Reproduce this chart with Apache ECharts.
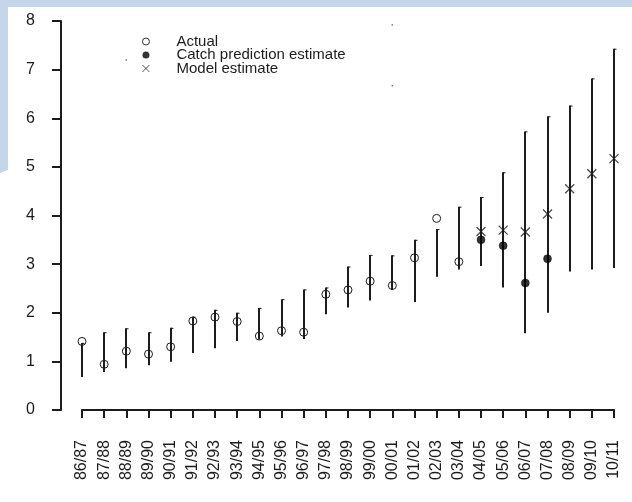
<!DOCTYPE html>
<html>
<head>
<meta charset="utf-8">
<title>Catch estimates</title>
<script src="https://cdn.jsdelivr.net/npm/echarts@6/dist/echarts.min.js"></script>
<style>
  html, body { margin: 0; padding: 0; background: #ffffff; }
  #chart { width: 632px; height: 502px; }
</style>
</head>
<body>
<div id="chart"></div>
<script>
// Seasons on the x axis
const seasons = ['86/87', '87/88', '88/89', '89/90', '90/91', '91/92', '92/93', '93/94',
  '94/95', '95/96', '96/97', '97/98', '98/99', '99/00', '00/01', '01/02', '02/03',
  '03/04', '04/05', '05/06', '06/07', '07/08', '08/09', '09/10', '10/11'];

// Observed values (up to 03/04)
const actual = [1.41, 0.94, 1.21, 1.15, 1.30, 1.83, 1.91, 1.82, 1.52, 1.63, 1.60, 2.38,
  2.47, 2.65, 2.56, 3.13, 3.94, 3.05, null, null, null, null, null, null, null];

// Catch prediction estimates
const catchPrediction = [null, null, null, null, null, null, null, null, null, null, null, null,
  null, null, null, null, null, null, 3.50, 3.38, 2.61, 3.11, null, null, null];

// Model estimates
const modelEstimate = [null, null, null, null, null, null, null, null, null, null, null, null,
  null, null, null, null, null, null, 3.67, 3.70, 3.66, 4.03, 4.55, 4.86, 5.17];

// Interval bounds for each season
const lowerBound = [0.68, 0.78, 0.86, 0.92, 0.99, 1.17, 1.27, 1.42, 1.45, 1.51, 1.46, 1.97,
  2.11, 2.25, 2.47, 2.22, 2.74, 2.89, 2.96, 2.52, 1.58, 2.00, 2.85, 2.89, 2.92];
const upperBound = [1.38, 1.60, 1.68, 1.60, 1.69, 1.92, 2.06, 2.00, 2.10, 2.28, 2.48, 2.52,
  2.95, 3.19, 3.18, 3.50, 3.72, 4.18, 4.38, 4.89, 5.73, 6.04, 6.26, 6.82, 7.43];

// Stray specks in the plot area: [season index, value]
const specks = [[2, 7.2], [14, 7.92], [14, 6.67]];

const ink = '#1c1c1c';
const font = '"Liberation Sans", Arial, Helvetica, sans-serif';

const chart = echarts.init(document.getElementById('chart'), null, { renderer: 'canvas' });

const intervals = seasons.map((s, i) => [i, lowerBound[i], upperBound[i]]);

chart.setOption({
  animation: false,
  backgroundColor: '#ffffff',
  textStyle: { fontFamily: font },
  graphic: [{
    type: 'polygon',
    silent: true,
    z: -10,
    shape: { points: [[0, 0], [632, 0], [632, 7], [8, 7], [8, 170], [0, 173]] },
    style: { fill: '#c6d6ea' }
  }],
  grid: { left: 82, right: 18, top: 21, bottom: 92, containLabel: false },
  legend: {
    orient: 'vertical',
    left: 137,
    top: 29,
    itemWidth: 7,
    itemHeight: 7,
    itemGap: -1.5,
    selectedMode: false,
    textStyle: { fontFamily: font, fontSize: 15, color: ink, lineHeight: 14, padding: [0, 0, 0, 22] },
    data: [
      { name: 'Actual', itemStyle: { color: 'rgba(0,0,0,0)', borderColor: ink, borderWidth: 0.9 } },
      { name: 'Catch prediction estimate', itemStyle: { color: '#000000', borderWidth: 0 } },
      { name: 'Model estimate', itemStyle: { color: 'rgba(0,0,0,0)', borderColor: ink, borderWidth: 0.9 } }
    ]
  },
  xAxis: {
    type: 'category',
    data: seasons,
    boundaryGap: false,
    offset: 15,
    axisLine: { show: true, lineStyle: { color: ink, width: 2 } },
    axisTick: { show: true, length: 8, lineStyle: { color: ink, width: 2 }, alignWithLabel: true },
    axisLabel: { rotate: 90, fontSize: 16, color: ink, margin: 15, interval: 0, fontFamily: font },
    splitLine: { show: false }
  },
  yAxis: {
    type: 'value',
    min: 0,
    max: 8,
    interval: 1,
    offset: 21,
    axisLine: { show: true, lineStyle: { color: ink, width: 2 } },
    axisTick: { show: true, length: 9, lineStyle: { color: ink, width: 2 } },
    axisLabel: { fontSize: 16, color: ink, margin: 26, fontFamily: font },
    splitLine: { show: false }
  },
  series: [
    {
      name: 'intervals',
      type: 'custom',
      z: 1,
      data: intervals,
      renderItem: function (params, api) {
        const lo = api.coord([api.value(0), api.value(1)]);
        const hi = api.coord([api.value(0), api.value(2)]);
        const x = Math.round(lo[0]);
        return {
          type: 'group',
          children: [
            {
              type: 'line',
              shape: { x1: x, y1: lo[1], x2: x, y2: hi[1] },
              style: { stroke: ink, lineWidth: 2 }
            },
            {
              type: 'line',
              shape: { x1: x, y1: hi[1] + 0.5, x2: x + 2.5, y2: hi[1] + 0.5 },
              style: { stroke: ink, lineWidth: 1 }
            }
          ]
        };
      }
    },
    {
      name: 'Actual',
      type: 'scatter',
      z: 3,
      symbol: 'circle',
      symbolSize: 8,
      data: actual,
      itemStyle: { color: 'rgba(0,0,0,0)', borderColor: ink, borderWidth: 1, opacity: 1 }
    },
    {
      name: 'Catch prediction estimate',
      type: 'scatter',
      z: 3,
      symbol: 'circle',
      symbolSize: 8,
      data: catchPrediction,
      itemStyle: { color: '#000000', borderColor: '#000000', borderWidth: 0.5 }
    },
    {
      name: 'Model estimate',
      type: 'scatter',
      z: 3,
      symbol: 'path://M0,0L10,10M10,0L0,10',
      symbolSize: 9,
      data: modelEstimate,
      itemStyle: { color: 'rgba(0,0,0,0)', borderColor: ink, borderWidth: 1.3 }
    },
    {
      name: 'specks',
      type: 'scatter',
      z: 2,
      symbol: 'rect',
      symbolSize: 1.5,
      silent: true,
      data: specks,
      itemStyle: { color: '#555555' }
    }
  ]
});
</script>
</body>
</html>
